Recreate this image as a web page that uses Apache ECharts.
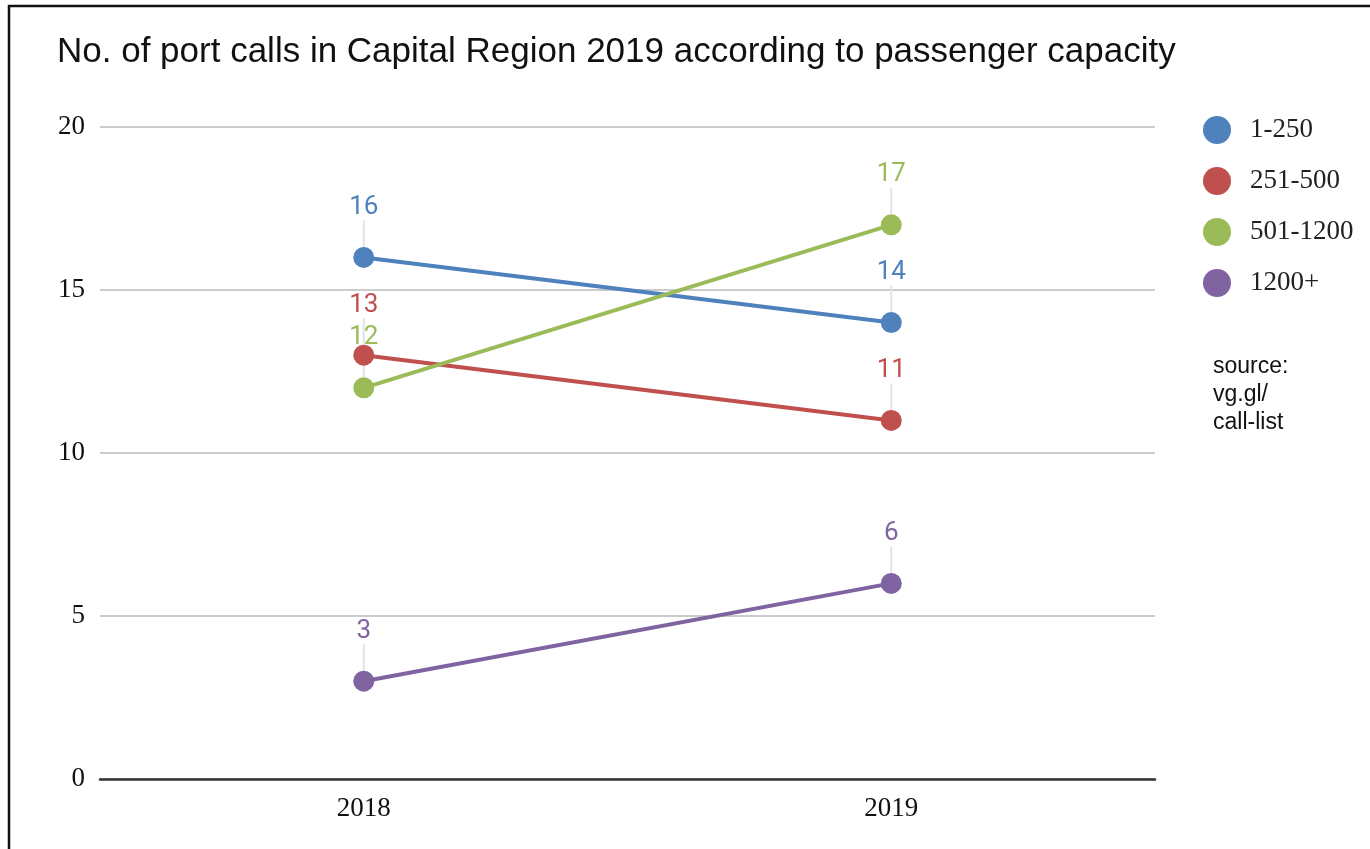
<!DOCTYPE html>
<html>
<head>
<meta charset="utf-8">
<style>
  html, body { margin: 0; padding: 0; background: #fff; }
  #chart { width: 1370px; height: 849px; }
</style>
<script src="https://cdn.jsdelivr.net/npm/echarts@6/dist/echarts.min.js"></script>
</head>
<body>
<div id="chart"></div>
<script>
// Port calls per year, grouped by ship passenger capacity
const years = ['2018', '2019'];
const cap1to250 = [16, 14];
const cap251to500 = [13, 11];
const cap501to1200 = [12, 17];
const cap1200plus = [3, 6];
const yTicks = [0, 5, 10, 15, 20];

const seriesDefs = [
  { name: '1-250', data: cap1to250, color: '#4f81bd' },
  { name: '251-500', data: cap251to500, color: '#c0504d' },
  { name: '501-1200', data: cap501to1200, color: '#9bbb59' },
  { name: '1200+', data: cap1200plus, color: '#8064a2' }
];

const chart = echarts.init(document.getElementById('chart'));

chart.setOption({
  backgroundColor: '#ffffff',
  animation: false,
  title: {
    text: 'No. of port calls in Capital Region 2019 according to passenger capacity',
    left: 52,
    top: 30,
    textStyle: {
      fontFamily: '"Liberation Sans", Arial, sans-serif',
      fontSize: 35,
      fontWeight: 'normal',
      color: '#111'
    }
  },
  legend: {
    orient: 'vertical',
    left: 1198,
    top: 111,
    icon: 'circle',
    itemWidth: 28,
    itemHeight: 28,
    itemGap: 23,
    textStyle: {
      fontFamily: '"Liberation Serif", "Times New Roman", serif',
      fontSize: 27,
      color: '#222',
      padding: [0, 0, 0, 14]
    },
    data: seriesDefs.map(s => s.name)
  },
  graphic: [
    {
      type: 'rect',
      shape: { x: 9, y: 6, width: 1500, height: 1000 },
      style: { fill: 'none', stroke: '#111', lineWidth: 2.5 },
      silent: true
    },
    {
      type: 'text',
      left: 1213,
      top: 353,
      style: {
        text: 'source:\nvg.gl/\ncall-list',
        font: '23px "Liberation Sans", Arial, sans-serif',
        lineHeight: 28,
        fill: '#111'
      }
    }
  ],
  grid: {
    left: 100,
    right: 215,
    top: 127,
    bottom: 70,
    containLabel: false
  },
  xAxis: {
    type: 'category',
    data: years,
    boundaryGap: true,
    axisLine: { lineStyle: { color: '#333', width: 2.5 } },
    axisTick: { show: false },
    axisLabel: {
      margin: 16,
      fontFamily: '"Liberation Serif", "Times New Roman", serif',
      fontSize: 27,
      color: '#111'
    }
  },
  yAxis: {
    type: 'value',
    min: yTicks[0],
    max: yTicks[yTicks.length - 1],
    interval: 5,
    axisLine: { show: false },
    axisTick: { show: false },
    splitLine: { lineStyle: { color: '#cccccc', width: 2 } },
    axisLabel: {
      margin: 15,
      fontFamily: '"Liberation Serif", "Times New Roman", serif',
      fontSize: 27,
      color: '#111'
    }
  },
  series: seriesDefs.map(s => ({
    name: s.name,
    type: 'line',
    data: s.data,
    symbol: 'circle',
    symbolSize: 21,
    color: s.color,
    lineStyle: { width: 4, color: s.color },
    itemStyle: { color: s.color },
    label: {
      show: true,
      position: 'inside',
      fontFamily: 'Roboto, "Noto Sans", sans-serif',
      fontSize: 26,
      color: s.color
    },
    labelLayout: { dy: -50 },
    labelLine: {
      show: true,
      lineStyle: { color: '#e3e3e3', width: 2 }
    }
  }))
});
</script>
</body>
</html>
